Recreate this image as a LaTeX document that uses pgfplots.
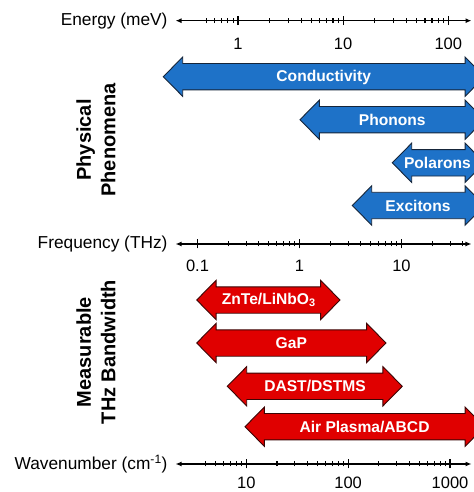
\documentclass[border=0pt]{standalone}
\usepackage{pgfplots}
\pgfplotsset{compat=1.18}
\usepackage{fontspec}
\setmainfont{Liberation Sans}
\usetikzlibrary{arrows.meta}
\definecolor{arrblue}{HTML}{1E72C8}
\definecolor{arrblueedge}{HTML}{15253A}
\definecolor{arrred}{HTML}{E00000}
\definecolor{arrrededge}{HTML}{3A0505}
% double-headed arrow: #1 left tip, #2 right tip (THz), #3 centre (px from top), #4 fill, #5 edge
\newcommand{\harrow}[5]{%
  \pgfmathsetmacro{\fa}{#1*1.55}%
  \pgfmathsetmacro{\fb}{#2/1.55}%
  \pgfmathsetmacro{\yo}{#3-19.7}\pgfmathsetmacro{\yi}{#3-13.2}%
  \pgfmathsetmacro{\yj}{#3+13.2}\pgfmathsetmacro{\yp}{#3+19.7}%
  \addplot[fill=#4, draw=#5, line width=0.9pt, line join=miter]
    coordinates {(#1,#3) (\fa,\yo) (\fa,\yi) (\fb,\yi) (\fb,\yo) (#2,#3) (\fb,\yp) (\fb,\yj) (\fa,\yj) (\fa,\yp)} -- cycle;
}
\begin{document}
\begin{tikzpicture}
% ---------- arrows (frequency in THz on a log axis, y in px from top) ----------
\begin{axis}[name=main, at={(0,0)}, anchor=south west, width=474bp, height=492bp,
  scale only axis, xmode=log, xmin=0.001158, xmax=51.37, ymin=0, ymax=492,
  y dir=reverse, hide axis, clip=true]
\harrow{0.04622}{65.1}{76.7}{arrblue}{arrblueedge}
\harrow{1.011}{65.1}{119.7}{arrblue}{arrblueedge}
\harrow{8.125}{65.1}{162.8}{arrblue}{arrblueedge}
\harrow{3.293}{65.1}{205.5}{arrblue}{arrblueedge}
\harrow{0.0982}{2.495}{300}{arrred}{arrrededge}
\harrow{0.0982}{7.047}{343}{arrred}{arrrededge}
\harrow{0.196}{10.18}{386.3}{arrred}{arrrededge}
\harrow{0.2922}{65.1}{426.7}{arrred}{arrrededge}
\node[text=white, font=\bfseries\fontsize{15.6bp}{18bp}\selectfont] at (axis cs:1.727,77) {Conductivity};
\node[text=white, font=\bfseries\fontsize{15.6bp}{18bp}\selectfont] at (axis cs:8.12,120) {Phonons};
\node[text=white, font=\bfseries\fontsize{15.6bp}{18bp}\selectfont] at (axis cs:22.5,163) {Polarons};
\node[text=white, font=\bfseries\fontsize{15.6bp}{18bp}\selectfont] at (axis cs:14.5,205.5) {Excitons};
\node[text=white, font=\bfseries\fontsize{15.6bp}{18bp}\selectfont] at (axis cs:0.499,300) {ZnTe/LiNbO\textsubscript{3}};
\node[text=white, font=\bfseries\fontsize{15.6bp}{18bp}\selectfont] at (axis cs:0.831,343) {GaP};
\node[text=white, font=\bfseries\fontsize{15.6bp}{18bp}\selectfont] at (axis cs:1.419,386.3) {DAST/DSTMS};
\node[text=white, font=\bfseries\fontsize{15.6bp}{18bp}\selectfont] at (axis cs:4.34,427) {Air Plasma/ABCD};
\end{axis}
% ---------- scales ----------
\begin{axis}[xmode=log, name=energy, at={(175.5bp,471.3bp)}, anchor=south west,
  scale only axis, width=296bp, height=1bp, ymin=0, ymax=1,
  axis x line=bottom, axis y line=none,
  x axis line style={line width=1.3bp, {Latex[length=6bp,width=5bp]}-{Latex[length=6bp,width=5bp]}},
  tick align=center, major tick length=9bp, minor tick length=5bp,
  tick style={black, line width=1.1bp},
  xticklabel style={font=\fontsize{16.5bp}{19bp}\selectfont, yshift=-9bp},
  xmin=0.2544, xmax=166.2,
  xtick={1,10,100}, xticklabels={1,10,100},
  minor xtick={0.5,0.6,0.7,0.8,0.9,2,3,4,5,6,7,8,9,20,30,40,50,60,70,80,90}]
\addplot[draw=none] coordinates {(1,0)};
\end{axis}
\begin{axis}[xmode=log, name=freq, at={(175.5bp,248bp)}, anchor=south west,
  scale only axis, width=296bp, height=1bp, ymin=0, ymax=1,
  axis x line=bottom, axis y line=none,
  x axis line style={line width=1.3bp, {Latex[length=6bp,width=5bp]}-{Latex[length=6bp,width=5bp]}},
  tick align=center, major tick length=9bp, minor tick length=5bp,
  tick style={black, line width=1.1bp},
  xticklabel style={font=\fontsize{16.5bp}{19bp}\selectfont, yshift=-8bp},
  xmin=0.06085, xmax=48.57,
  xtick={0.1,1,10}, xticklabels={0.1,1,10},
  minor xtick={0.2,0.3,0.4,0.5,0.6,0.7,0.8,0.9,2,3,4,5,6,7,8,9,20,30,40}]
\addplot[draw=none] coordinates {(1,0)};
\end{axis}
\begin{axis}[xmode=log, name=wave, at={(175.5bp,28bp)}, anchor=south west,
  scale only axis, width=296bp, height=1bp, ymin=0, ymax=1,
  axis x line=bottom, axis y line=none,
  x axis line style={line width=1.3bp, {Latex[length=6bp,width=5bp]}-{Latex[length=6bp,width=5bp]}},
  tick align=center, major tick length=9bp, minor tick length=5bp,
  tick style={black, line width=1.1bp},
  xticklabel style={font=\fontsize{16.5bp}{19bp}\selectfont, yshift=-4.5bp},
  xmin=2.018, xmax=1626,
  xtick={10,100,1000}, xticklabels={10,100,1000},
  minor xtick={4,5,6,7,8,9,20,30,40,50,60,70,80,90,200,300,400,500,600,700,800,900}]
\addplot[draw=none] coordinates {(10,0)};
\end{axis}
\node[anchor=east, inner sep=0pt, font=\fontsize{17.3bp}{20bp}\selectfont] at ([xshift=-7.8bp]energy.south west) {Energy (meV)};
\node[anchor=east, inner sep=0pt, font=\fontsize{17.3bp}{20bp}\selectfont] at ([xshift=-7.8bp]freq.south west) {Frequency (THz)};
\node[anchor=east, inner sep=0pt, font=\fontsize{17.3bp}{20bp}\selectfont] at ([xshift=-7.8bp]wave.south west) {Wavenumber (cm\textsuperscript{-1})};
\node[rotate=90, align=center, font=\bfseries\fontsize{20bp}{24.5bp}\selectfont] at (96bp,352bp) {Physical\\Phenomena};
\node[rotate=90, align=center, font=\bfseries\fontsize{20bp}{24.5bp}\selectfont] at (96bp,140bp) {Measurable\\THz Bandwidth};
\pgfresetboundingbox
\path[use as bounding box] (0,0) rectangle (474bp,492bp);
\end{tikzpicture}
\end{document}
